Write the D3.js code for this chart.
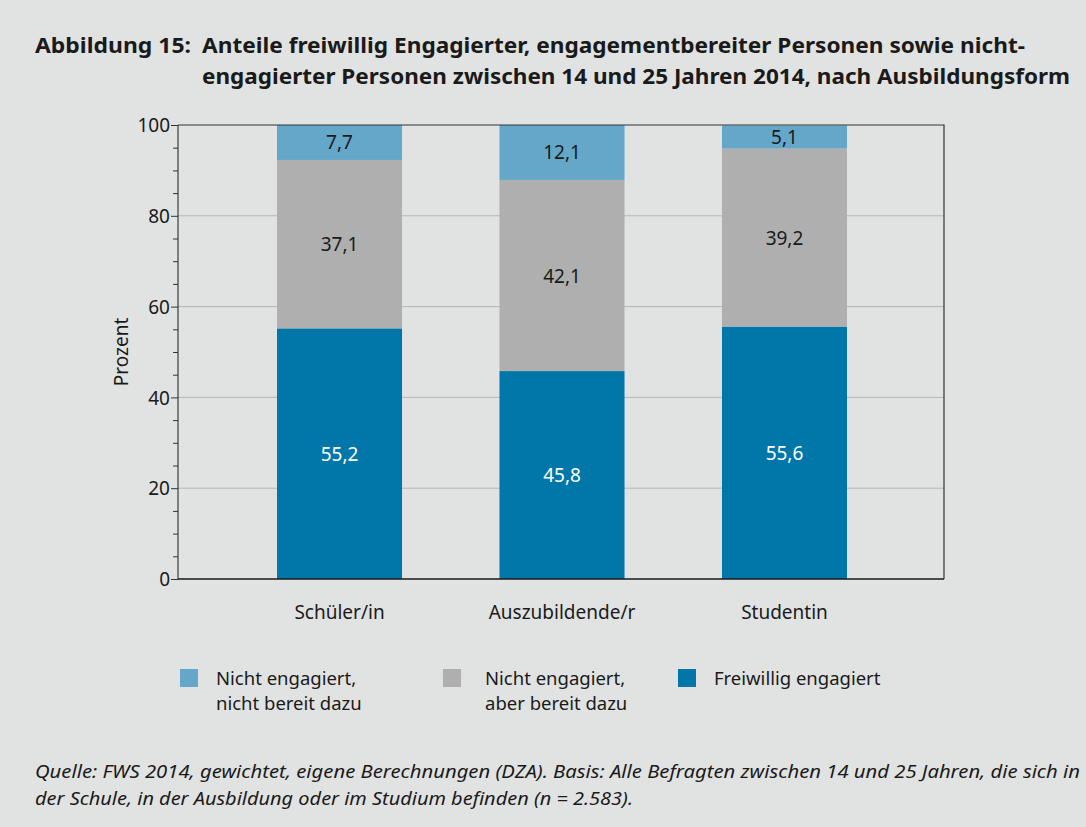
<!DOCTYPE html>
<html>
<head>
<meta charset="utf-8">
<script src="https://cdn.jsdelivr.net/npm/d3@7"></script>
<style>
  body { margin: 0; background: #e1e3e2; }
  svg { display: block; font-family: "Noto Sans", "Open Sans", sans-serif; }
</style>
</head>
<body>
<svg id="container"></svg>
<script>
const width = 1086;
const height = 827;
const margin = ({top: 125, right: 142, bottom: 248, left: 178});

// data
const categories = ["Schüler/in", "Auszubildende/r", "Studentin"];
const freiwillig = [55.2, 45.8, 55.6];
const bereit = [37.1, 42.1, 39.2];
const nichtBereit = [7.7, 12.1, 5.1];
const legendLines = [["Nicht engagiert,", "nicht bereit dazu"], ["Nicht engagiert,", "aber bereit dazu"], ["Freiwillig engagiert"]];
const yTicks = [0, 20, 40, 60, 80, 100];
const titleLines = ["Anteile freiwillig Engagierter, engagementbereiter Personen sowie nicht-",
                    "engagierter Personen zwischen 14 und 25 Jahren 2014, nach Ausbildungsform"];
const sourceLines = ["Quelle: FWS 2014, gewichtet, eigene Berechnungen (DZA). Basis: Alle Befragten zwischen 14 und 25 Jahren, die sich in",
                     "der Schule, in der Ausbildung oder im Studium befinden (n = 2.583)."];

const colors = ["#0077a8", "#afafaf", "#64a7c9"];

const table = categories.map((c, i) => ({cat: c, s0: freiwillig[i], s1: bereit[i], s2: nichtBereit[i]}));
const stacked = d3.stack().keys(["s0", "s1", "s2"])(table);

const svg = d3.select("#container")
    .attr("width", width)
    .attr("height", height)
    .attr("viewBox", [0, 0, width, height]);

svg.append("rect").attr("width", width).attr("height", height).attr("fill", "#e1e3e2");

// fit a text element to a given width
function fit(sel, w) {
  sel.attr("textLength", w).attr("lengthAdjust", "spacingAndGlyphs");
}

// title
const title = svg.append("g").attr("font-weight", "bold").attr("font-size", 22).attr("fill", "#1a1a1a");
title.append("text").attr("x", 35).attr("y", 53).text("Abbildung 15:").call(fit, 156);
titleLines.forEach((t, i) => {
  title.append("text").attr("x", 202).attr("y", 53 + i * 31).text(t).call(fit, i === 0 ? 823 : 868);
});

const x = d3.scaleBand()
    .domain(categories)
    .range([277, 847])
    .paddingInner(0.438)
    .paddingOuter(0);

const y = d3.scaleLinear()
    .domain([0, 100])
    .range([height - margin.bottom, margin.top]);

// gridlines
svg.append("g")
  .selectAll("line")
  .data(yTicks.slice(1, -1))
  .join("line")
    .attr("x1", margin.left).attr("x2", width - margin.right)
    .attr("y1", d => y(d)).attr("y2", d => y(d))
    .attr("stroke", "#b4b6b5").attr("stroke-width", 1);

// bars
svg.append("g")
  .selectAll("g")
  .data(stacked)
  .join("g")
    .attr("fill", (d, i) => colors[i])
  .selectAll("rect")
  .data(d => d)
  .join("rect")
    .attr("x", d => x(d.data.cat))
    .attr("y", d => y(d[1]))
    .attr("height", d => y(d[0]) - y(d[1]))
    .attr("width", x.bandwidth());

// value labels
svg.append("g")
  .attr("font-size", 19)
  .attr("text-anchor", "middle")
  .selectAll("g")
  .data(stacked)
  .join("g")
    .attr("fill", (d, i) => i === 0 ? "#ffffff" : "#1a1a1a")
  .selectAll("text")
  .data(d => d)
  .join("text")
    .attr("x", d => x(d.data.cat) + x.bandwidth() / 2)
    .attr("y", d => (y(d[0]) + y(d[1])) / 2 + 7)
    .text(d => d3.format(".1f")(d[1] - d[0]).replace(".", ","));

// frame: top and right
svg.append("path")
  .attr("d", `M${margin.left},${margin.top}H${width - margin.right}V${height - margin.bottom}`)
  .attr("fill", "none").attr("stroke", "#333").attr("stroke-width", 1.2);

// y axis
const yAxis = svg.append("g")
  .attr("transform", `translate(${margin.left},0)`)
  .call(d3.axisLeft(y).tickValues(d3.range(0, 101, 5)).tickSize(7).tickFormat(d => yTicks.includes(d) ? d : ""))
  .call(g => g.select(".domain").attr("stroke", "#1a1a1a").attr("d", `M0,${y(0)}V${y(100)}`))
  .call(g => g.selectAll(".tick line").attr("stroke", "#333"))
  .call(g => g.selectAll(".tick text").attr("font-size", 19).attr("fill", "#1a1a1a").attr("x", -8).attr("dy", "0.35em").attr("font-family", "Noto Sans"));
yAxis.selectAll(".tick").filter(d => d % 20 !== 0).select("line").attr("x2", -5);

// x axis
svg.append("g")
  .attr("transform", `translate(0,${y(0)})`)
  .call(d3.axisBottom(x).tickSize(0).tickPadding(27))
  .call(g => g.select(".domain").attr("stroke", "#1a1a1a").attr("stroke-width", 1.5).attr("d", `M${margin.left},0H${width - margin.right}`))
  .call(g => g.selectAll(".tick text").attr("font-size", 19).attr("fill", "#1a1a1a").attr("font-family", "Noto Sans"));

// y title
svg.append("text")
  .attr("transform", `translate(128,${(y(0) + y(100)) / 2}) rotate(-90)`)
  .attr("text-anchor", "middle")
  .attr("font-size", 19)
  .attr("fill", "#1a1a1a")
  .text("Prozent");

// legend
const legendX = [180, 443, 678];
const legendColors = [colors[2], colors[1], colors[0]];
const legend = svg.append("g").attr("font-size", 18.5).attr("fill", "#1a1a1a")
  .selectAll("g")
  .data(legendLines)
  .join("g")
    .attr("transform", (d, i) => `translate(${legendX[i]},669)`);
legend.append("rect").attr("width", 18).attr("height", 18).attr("fill", (d, i) => legendColors[i]);
legend.each(function(lines, i) {
  const g = d3.select(this);
  lines.forEach((l, j) => {
    g.append("text").attr("x", i === 1 ? 42 : 36).attr("y", 16 + j * 25).text(l);
  });
});

// source
svg.append("g")
  .attr("font-size", 18.5)
  .attr("font-style", "italic")
  .attr("fill", "#1a1a1a")
  .selectAll("text")
  .data(sourceLines)
  .join("text")
    .attr("x", 35)
    .attr("y", (d, i) => 778 + i * 27)
    .text(d => d)
    .each(function(d, i) { d3.select(this).call(fit, i === 0 ? 1045 : 598); });
</script>
</body>
</html>
